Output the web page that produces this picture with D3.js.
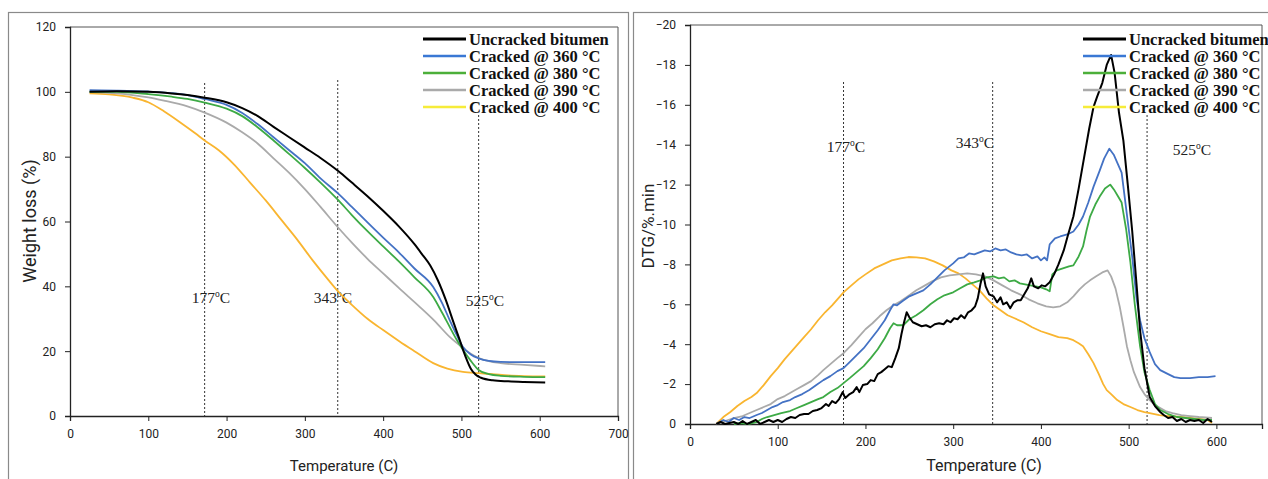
<!DOCTYPE html>
<html>
<head>
<meta charset="utf-8">
<script src="https://cdn.jsdelivr.net/npm/d3@7"></script>
<style>
  html, body { margin: 0; padding: 0; background: #fff; }
  svg { display: block; }
  .tick text { font-family: "Roboto", "Liberation Sans", sans-serif; font-size: 12px; fill: #222; }
  .atitle { font-family: "Roboto", "Liberation Sans", sans-serif; fill: #222; }
  .leg { font-family: "Liberation Serif", "DejaVu Serif", serif; font-weight: bold; font-size: 16.5px; fill: #111; }
  .ann { font-family: "Liberation Serif", "DejaVu Serif", serif; font-size: 15.5px; fill: #222; }
</style>
</head>
<body>
<svg id="chart" width="1268" height="479"></svg>
<script>
// ---------------- DATA ----------------
const seriesNames = ["Uncracked bitumen", "Cracked @ 360 °C", "Cracked @ 380 °C", "Cracked @ 390 °C", "Cracked @ 400 °C"];
const lineColors = ["#000000", "#4472C4", "#3DAA45", "#AAAAAA", "#F9B530"];
const legendColors = ["#000000", "#3A78D4", "#4CAF3A", "#AAAAAA", "#F6EC3A"];

// TGA (left) : [temperature, weight %]
const tgaUncracked = [[25,100],[60,100.2],[100,100],[130,99.5],[150,99],[172,98.2],[200,96.8],[220,95],[240,92.5],[260,89.2],[280,86],[300,82.8],[320,79.6],[343,75.5],[360,72],[380,67.8],[400,63.3],[420,58.5],[440,53],[450,49.8],[460,46.5],[470,41.8],[480,35.8],[490,28.8],[497,24],[505,18.5],[512,14.6],[518,12.8],[525,11.8],[540,11],[560,10.7],[580,10.5],[607,10.3]];
const tga360 = [[25,100.5],[60,100.4],[100,100.1],[130,99.6],[150,99],[172,97.8],[200,96],[220,93.5],[240,90],[260,86],[280,82],[300,78],[320,73.3],[343,68.5],[360,64.5],[380,59.7],[400,55],[420,50.5],[440,45.5],[464,39.8],[475,35],[485,29.6],[494,25],[502,21.3],[512,19],[522,17.8],[535,17],[550,16.7],[580,16.6],[607,16.6]];
const tga380 = [[25,100],[60,100],[100,99.3],[130,98.5],[150,97.8],[172,96.7],[200,94.8],[220,92.5],[240,89],[260,85],[280,80.8],[300,76.5],[320,72],[343,66.5],[360,62],[380,57],[400,52.3],[420,47.7],[440,42.8],[464,36.7],[475,32],[485,27.5],[494,23.5],[502,20.4],[512,17],[522,14.2],[535,12.9],[550,12.4],[580,12.1],[607,12]];
const tga390 = [[25,100],[60,99.5],[80,99],[100,98.3],[120,97.3],[150,95.5],[172,93.6],[200,90.5],[220,87.5],[240,84],[260,79.5],[280,75],[300,70],[320,64.5],[343,58],[360,53.5],[380,48.5],[400,44],[420,39.5],[447,33.6],[465,29.5],[485,24.4],[502,21],[512,19.2],[522,17.9],[535,16.9],[550,16.3],[580,15.8],[607,15.3]];
const tga400 = [[25,99.5],[50,99.2],[80,98.2],[100,96.8],[120,94],[140,90.7],[160,87.2],[172,85],[190,82],[210,77.5],[230,72],[250,66.5],[270,60.5],[290,54.5],[310,48],[330,42],[343,38.3],[360,34.3],[380,30],[400,26.5],[421,23],[440,20],[464,16.3],[482,14.6],[502,13.6],[522,13.2],[540,12.9],[560,12.5],[580,12.3],[607,12.2]];
const tgaSeries = [tgaUncracked, tga360, tga380, tga390, tga400];

// DTG (right) : [temperature, DTG %/min]
const dtgUncracked = [[30,0],[35,-0.1],[40,0],[50,-0.1],[55,0],[60,-0.15],[65,0],[70,-0.1],[75,-0.2],[80,0],[85,-0.1],[90,-0.2],[95,-0.1],[100,-0.2],[105,-0.1],[110,-0.25],[115,-0.35],[120,-0.3],[125,-0.45],[130,-0.5],[135,-0.5],[140,-0.65],[145,-0.7],[150,-0.8],[155,-1.0],[158,-0.9],[162,-1.15],[166,-1.05],[170,-1.25],[174,-1.6],[177,-1.3],[182,-1.5],[186,-1.6],[190,-1.85],[193,-1.6],[197,-1.95],[202,-2.0],[206,-2.2],[210,-2.15],[214,-2.5],[218,-2.6],[222,-2.75],[226,-2.9],[230,-2.85],[234,-3.3],[238,-3.8],[241,-4.5],[244,-5.1],[247,-5.6],[250,-5.35],[254,-5.1],[259,-5.0],[264,-4.9],[269,-4.95],[274,-4.85],[279,-5.0],[284,-5.05],[289,-5.0],[293,-5.2],[297,-5.1],[301,-5.3],[305,-5.25],[309,-5.45],[313,-5.3],[317,-5.6],[321,-5.7],[325,-5.9],[328,-6.3],[331,-7.0],[334,-7.55],[337,-6.9],[341,-6.5],[346,-6.4],[350,-6.1],[354,-6.35],[357,-6.0],[361,-6.1],[365,-5.8],[369,-6.1],[373,-6.2],[377,-6.2],[381,-6.5],[385,-6.8],[389,-7.3],[392,-6.9],[397,-6.8],[401,-6.95],[405,-6.9],[410,-7.1],[415,-7.5],[420,-8.0],[426,-8.7],[431,-9.5],[437,-10.4],[443,-11.8],[449,-13.3],[455,-14.8],[460,-15.9],[464,-16.4],[470,-17.1],[475,-18.0],[480,-18.5],[484,-17.6],[489,-15.6],[494,-14.2],[499,-12.0],[504,-9.7],[509,-7.0],[513,-4.7],[518,-2.8],[524,-1.35],[530,-0.9],[536,-0.6],[540,-0.45],[545,-0.3],[550,-0.35],[555,-0.15],[560,-0.25],[565,-0.1],[570,-0.2],[575,-0.15],[580,-0.2],[585,-0.05],[590,-0.25],[595,-0.1]];
const dtg360 = [[30,0],[38,-0.2],[44,-0.1],[50,-0.3],[56,-0.2],[62,-0.35],[68,-0.3],[76,-0.45],[82,-0.55],[88,-0.7],[94,-0.85],[100,-0.95],[106,-1.1],[114,-1.2],[120,-1.35],[128,-1.5],[136,-1.7],[144,-1.95],[152,-2.2],[160,-2.4],[168,-2.65],[175,-2.8],[182,-3.1],[190,-3.45],[198,-3.8],[206,-4.25],[214,-4.7],[222,-5.2],[228,-5.7],[232,-6.0],[236,-5.95],[242,-6.15],[250,-6.4],[258,-6.55],[266,-6.7],[274,-7.0],[282,-7.35],[290,-7.7],[300,-8.05],[306,-8.3],[312,-8.35],[318,-8.55],[324,-8.5],[330,-8.6],[336,-8.7],[342,-8.65],[348,-8.8],[354,-8.7],[360,-8.75],[366,-8.6],[372,-8.5],[378,-8.45],[384,-8.5],[390,-8.3],[396,-8.4],[400,-8.2],[404,-8.35],[407,-8.2],[410,-9.0],[416,-9.3],[422,-9.4],[430,-9.5],[437,-9.65],[443,-10.0],[448,-10.4],[454,-11.1],[460,-11.9],[467,-12.7],[472,-13.3],[478,-13.8],[483,-13.5],[488,-13.0],[492,-12.6],[496,-11.2],[500,-9.8],[504,-8.4],[509,-6.3],[513,-5.2],[518,-4.3],[524,-3.6],[530,-3.0],[536,-2.7],[545,-2.5],[552,-2.35],[559,-2.3],[570,-2.3],[580,-2.35],[590,-2.35],[599,-2.4]];
const dtg380 = [[50,0],[58,-0.05],[66,0],[76,-0.1],[82,-0.25],[88,-0.35],[96,-0.45],[104,-0.55],[114,-0.65],[122,-0.8],[130,-0.95],[138,-1.1],[146,-1.25],[152,-1.35],[160,-1.6],[168,-1.8],[175,-2.05],[182,-2.3],[190,-2.6],[198,-2.9],[206,-3.3],[214,-3.75],[222,-4.3],[228,-4.8],[232,-5.05],[236,-4.95],[243,-4.95],[250,-5.25],[258,-5.45],[266,-5.7],[274,-6.0],[282,-6.25],[290,-6.45],[300,-6.6],[308,-6.8],[316,-7.0],[324,-7.1],[331,-7.2],[338,-7.35],[346,-7.4],[352,-7.3],[358,-7.35],[364,-7.15],[370,-7.2],[376,-7.05],[382,-7.0],[388,-6.95],[394,-6.9],[400,-6.85],[406,-6.75],[410,-6.65],[413,-7.5],[418,-7.7],[425,-7.8],[432,-7.9],[437,-7.95],[443,-8.4],[448,-8.9],[452,-9.7],[456,-10.4],[462,-11.0],[467,-11.4],[473,-11.8],[479,-12.0],[484,-11.7],[488,-11.4],[492,-11.1],[497,-9.8],[502,-8.1],[507,-6.0],[513,-3.9],[518,-2.6],[524,-1.7],[530,-1.0],[536,-0.7],[545,-0.5],[555,-0.35],[565,-0.3],[575,-0.25],[585,-0.2],[595,-0.2]];
const dtg390 = [[30,0],[40,-0.15],[50,-0.3],[60,-0.4],[68,-0.55],[76,-0.7],[84,-0.85],[92,-1.0],[100,-1.25],[108,-1.4],[114,-1.55],[122,-1.75],[130,-1.95],[138,-2.15],[146,-2.45],[152,-2.7],[160,-3.0],[168,-3.3],[175,-3.55],[184,-3.95],[192,-4.35],[200,-4.75],[208,-5.05],[216,-5.4],[224,-5.7],[232,-5.95],[240,-6.15],[250,-6.45],[258,-6.7],[266,-6.9],[276,-7.15],[286,-7.35],[296,-7.45],[306,-7.5],[316,-7.55],[326,-7.5],[336,-7.4],[346,-7.2],[356,-6.95],[366,-6.7],[376,-6.5],[386,-6.25],[396,-6.05],[406,-5.9],[414,-5.85],[422,-5.9],[430,-6.1],[437,-6.4],[444,-6.75],[450,-7.0],[456,-7.2],[463,-7.4],[470,-7.6],[476,-7.7],[480,-7.4],[485,-6.8],[490,-5.85],[494,-4.9],[498,-3.9],[502,-3.2],[506,-2.6],[513,-1.85],[518,-1.5],[524,-1.2],[530,-0.95],[536,-0.8],[542,-0.65],[550,-0.55],[560,-0.45],[570,-0.4],[580,-0.35],[595,-0.3]];
const dtg400 = [[30,0],[38,-0.35],[46,-0.6],[54,-0.9],[62,-1.15],[70,-1.35],[76,-1.55],[84,-1.95],[92,-2.4],[100,-2.8],[108,-3.25],[114,-3.55],[122,-3.95],[130,-4.35],[138,-4.75],[146,-5.2],[154,-5.6],[162,-5.95],[170,-6.35],[175,-6.6],[184,-6.95],[192,-7.25],[200,-7.5],[210,-7.8],[220,-8.0],[230,-8.2],[240,-8.3],[249,-8.37],[258,-8.35],[268,-8.3],[278,-8.15],[288,-7.95],[298,-7.7],[306,-7.55],[314,-7.3],[322,-7.0],[330,-6.7],[338,-6.3],[346,-5.95],[354,-5.7],[362,-5.45],[370,-5.3],[380,-5.1],[390,-4.85],[400,-4.65],[410,-4.5],[420,-4.35],[430,-4.3],[437,-4.2],[443,-4.05],[448,-3.9],[454,-3.5],[460,-3.05],[466,-2.5],[471,-2.0],[475,-1.7],[480,-1.5],[487,-1.2],[494,-1.0],[502,-0.85],[510,-0.7],[518,-0.6],[524,-0.55],[535,-0.45],[545,-0.4],[559,-0.35],[570,-0.3],[580,-0.25],[590,-0.2],[595,-0.05]];
const dtgSeries = [dtgUncracked, dtg360, dtg380, dtg390, dtg400];

const tgaXTicks = [0,100,200,300,400,500,600,700];
const tgaYTicks = [0,20,40,60,80,100,120];
const dtgXTicks = [0,100,200,300,400,500,600];
const dtgYTicks = [0,-2,-4,-6,-8,-10,-12,-14,-16,-18,-20];

// reference temperature lines [position on axis, label]
const tgaMarks = [[172,"177"],[342,"343"],[522,"525"]];
const dtgMarks = [[175,"177"],[345,"343"],[521,"525"]];

// ---------------- DRAW ----------------
const svg = d3.select("#chart");

// panel frames
svg.append("rect").attr("x",8.5).attr("y",12.5).attr("width",620).attr("height",480)
  .attr("fill","none").attr("stroke","#8a8a8a").attr("stroke-width",1.2);
svg.append("rect").attr("x",633.5).attr("y",12.5).attr("width",660).attr("height",480)
  .attr("fill","none").attr("stroke","#8a8a8a").attr("stroke-width",1.2);

function panel(cfg) {
  const g = svg.append("g");
  const x = d3.scaleLinear().domain(cfg.xDomain).range([cfg.left, cfg.right]);
  const y = d3.scaleLinear().domain(cfg.yDomain).range([cfg.bottom, cfg.top]);

  // plot frame (top & right)
  g.append("path")
    .attr("d", `M${cfg.left},${cfg.top}H${cfg.right}V${cfg.bottom}`)
    .attr("fill","none").attr("stroke","#555").attr("stroke-width",1);

  // axes
  const xa = g.append("g").attr("transform",`translate(0,${cfg.bottom})`)
    .call(d3.axisBottom(x).tickValues(cfg.xTicks).tickSize(5).tickPadding(8).tickFormat(d3.format("d")));
  const ya = g.append("g").attr("transform",`translate(${cfg.left},0)`)
    .call(d3.axisLeft(y).tickValues(cfg.yTicks).tickSize(5).tickPadding(9).tickFormat(d => d3.format("d")(d)));
  [xa, ya].forEach(a => {
    a.select(".domain").attr("stroke","#222").attr("stroke-width",1.3);
    a.selectAll(".tick line").attr("stroke","#222");
  });

  // vertical reference lines
  cfg.marks.forEach((m, i) => {
    g.append("line")
      .attr("x1", x(m[0])).attr("x2", x(m[0]))
      .attr("y1", cfg.markTops[i]).attr("y2", cfg.bottom)
      .attr("stroke","#333").attr("stroke-width",1).attr("stroke-dasharray","2,2");
    const t = g.append("text").attr("class","ann")
      .attr("x", cfg.labelPos[i][0]).attr("y", cfg.labelPos[i][1]).attr("text-anchor","middle");
    t.append("tspan").text(m[1]);
    t.append("tspan").attr("font-size","9.5px").attr("dy","-6").text("o");
    t.append("tspan").attr("dy","6").text("C");
  });

  // series lines
  const line = d3.line().x(d => x(d[0])).y(d => y(d[1])).curve(cfg.curve);
  const order = [4,3,2,1,0];
  order.forEach(i => {
    g.append("path").datum(cfg.series[i])
      .attr("d", line).attr("fill","none")
      .attr("stroke", lineColors[i]).attr("stroke-width", i === 0 ? 2 : 1.8)
      .attr("stroke-linejoin","round");
  });

  // legend
  seriesNames.forEach((name, i) => {
    const yy = cfg.legTop + i * 17;
    g.append("line").attr("x1", cfg.legX).attr("x2", cfg.legX + 43)
      .attr("y1", yy).attr("y2", yy)
      .attr("stroke", legendColors[i]).attr("stroke-width", i === 0 ? 3 : 2.6);
    g.append("text").attr("class","leg").attr("x", cfg.legX + 46).attr("y", yy + 5.5).text(name);
  });

  // axis titles
  g.append("text").attr("class","atitle").attr("text-anchor","middle")
    .attr("x", cfg.xTitleX).attr("y", 471).attr("font-size", cfg.xTitleSize + "px")
    .text("Temperature (C)");
  g.append("text").attr("class","atitle").attr("text-anchor","middle")
    .attr("font-size", cfg.yTitleSize + "px")
    .attr("transform", `translate(${cfg.yTitleX},${cfg.yTitleY}) rotate(-90)`)
    .text(cfg.yTitle);
}

panel({
  xDomain:[0,700], yDomain:[0,120], left:70, right:618, top:27, bottom:416,
  xTicks: tgaXTicks, yTicks: tgaYTicks, series: tgaSeries, curve: d3.curveMonotoneX,
  marks: tgaMarks, markTops:[83,80,115],
  labelPos:[[211,303],[333,303],[485,306]],
  legX: 423, legTop: 39,
  xTitleX: 344, xTitleSize: 15, yTitle: "Weight loss (%)", yTitleSize: 18, yTitleX: 36, yTitleY: 221
});

panel({
  xDomain:[0,652], yDomain:[0,-20], left:690, right:1262, top:25, bottom:424,
  xTicks: dtgXTicks, yTicks: dtgYTicks, series: dtgSeries, curve: d3.curveLinear,
  marks: dtgMarks, markTops:[82,82,115],
  labelPos:[[846,152],[975,148],[1192,155]],
  legX: 1083, legTop: 39,
  xTitleX: 984, xTitleSize: 16, yTitle: "DTG/%.min", yTitleSize: 17, yTitleX: 654, yTitleY: 226
});
</script>
</body>
</html>
